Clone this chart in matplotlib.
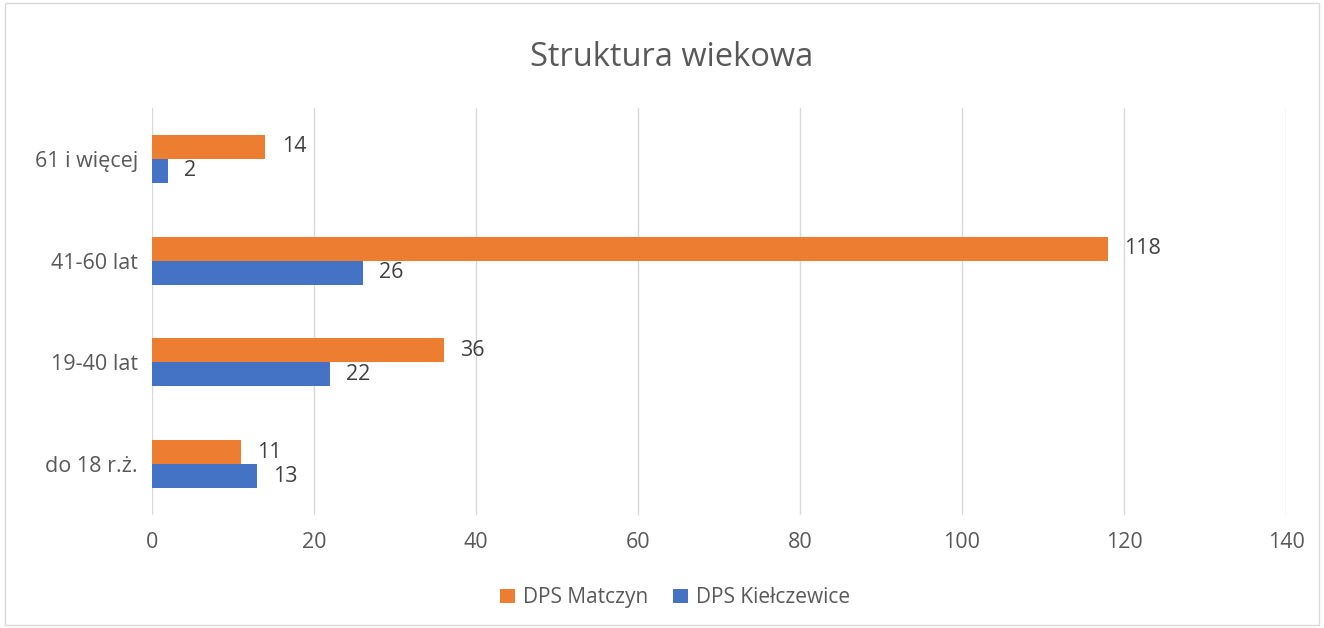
import numpy as np
import matplotlib.pyplot as plt
from matplotlib.patches import Rectangle

plt.rcParams['font.family'] = ['Open Sans', 'DejaVu Sans']

categories = ["do 18 r.ż.", "19-40 lat", "41-60 lat", "61 i więcej"]
matczyn = [11, 36, 118, 14]
kielczewice = [13, 22, 26, 2]
xticks = [0, 20, 40, 60, 80, 100, 120, 140]

orange = "#ED7D31"
blue = "#4472C4"
txt = "#595959"

fig = plt.figure(figsize=(13.24, 6.28), dpi=100)
ax = fig.add_axes([0.1148, 0.180, 0.8565, 0.648])

y = np.arange(len(categories))
h = 0.236
ax.barh(y + h / 2, matczyn, height=h, color=orange, label="DPS Matczyn")
ax.barh(y - h / 2, kielczewice, height=h, color=blue, label="DPS Kiełczewice")

for yi, v in zip(y, matczyn):
    ax.text(v + 2.0, yi + h / 2, str(v), va="center", ha="left", fontsize=15.5, color="#404040")
for yi, v in zip(y, kielczewice):
    ax.text(v + 2.0, yi - h / 2, str(v), va="center", ha="left", fontsize=15.5, color="#404040")

ax.set_xlim(0, 140)
ax.set_ylim(-0.5, 3.5)
ax.set_xticks(xticks)
ax.set_yticks(y)
ax.set_yticklabels(categories)
ax.tick_params(axis="both", length=0, labelsize=15.5, colors=txt, pad=10)
ax.tick_params(axis="x", pad=12)
ax.grid(axis="x", color="#D9D9D9", linewidth=1)
ax.set_axisbelow(True)
for s in ax.spines.values():
    s.set_visible(False)

fig.text(0.507, 0.908, "Struktura wiekowa", ha="center", va="center", fontsize=23.5, color=txt)

handles, labels = ax.get_legend_handles_labels()
fig.legend(handles, labels, loc="center", bbox_to_anchor=(0.51, 0.048), ncol=2, frameon=False,
           fontsize=15, labelcolor=txt, handlelength=0.7, handleheight=0.7, columnspacing=1.2,
           handletextpad=0.4)

fig.patches.append(Rectangle((0.004, 0.004), 0.992, 0.992, transform=fig.transFigure,
                             fill=False, edgecolor="#D9D9D9", linewidth=1))

fig.savefig("out.png", dpi=100)
